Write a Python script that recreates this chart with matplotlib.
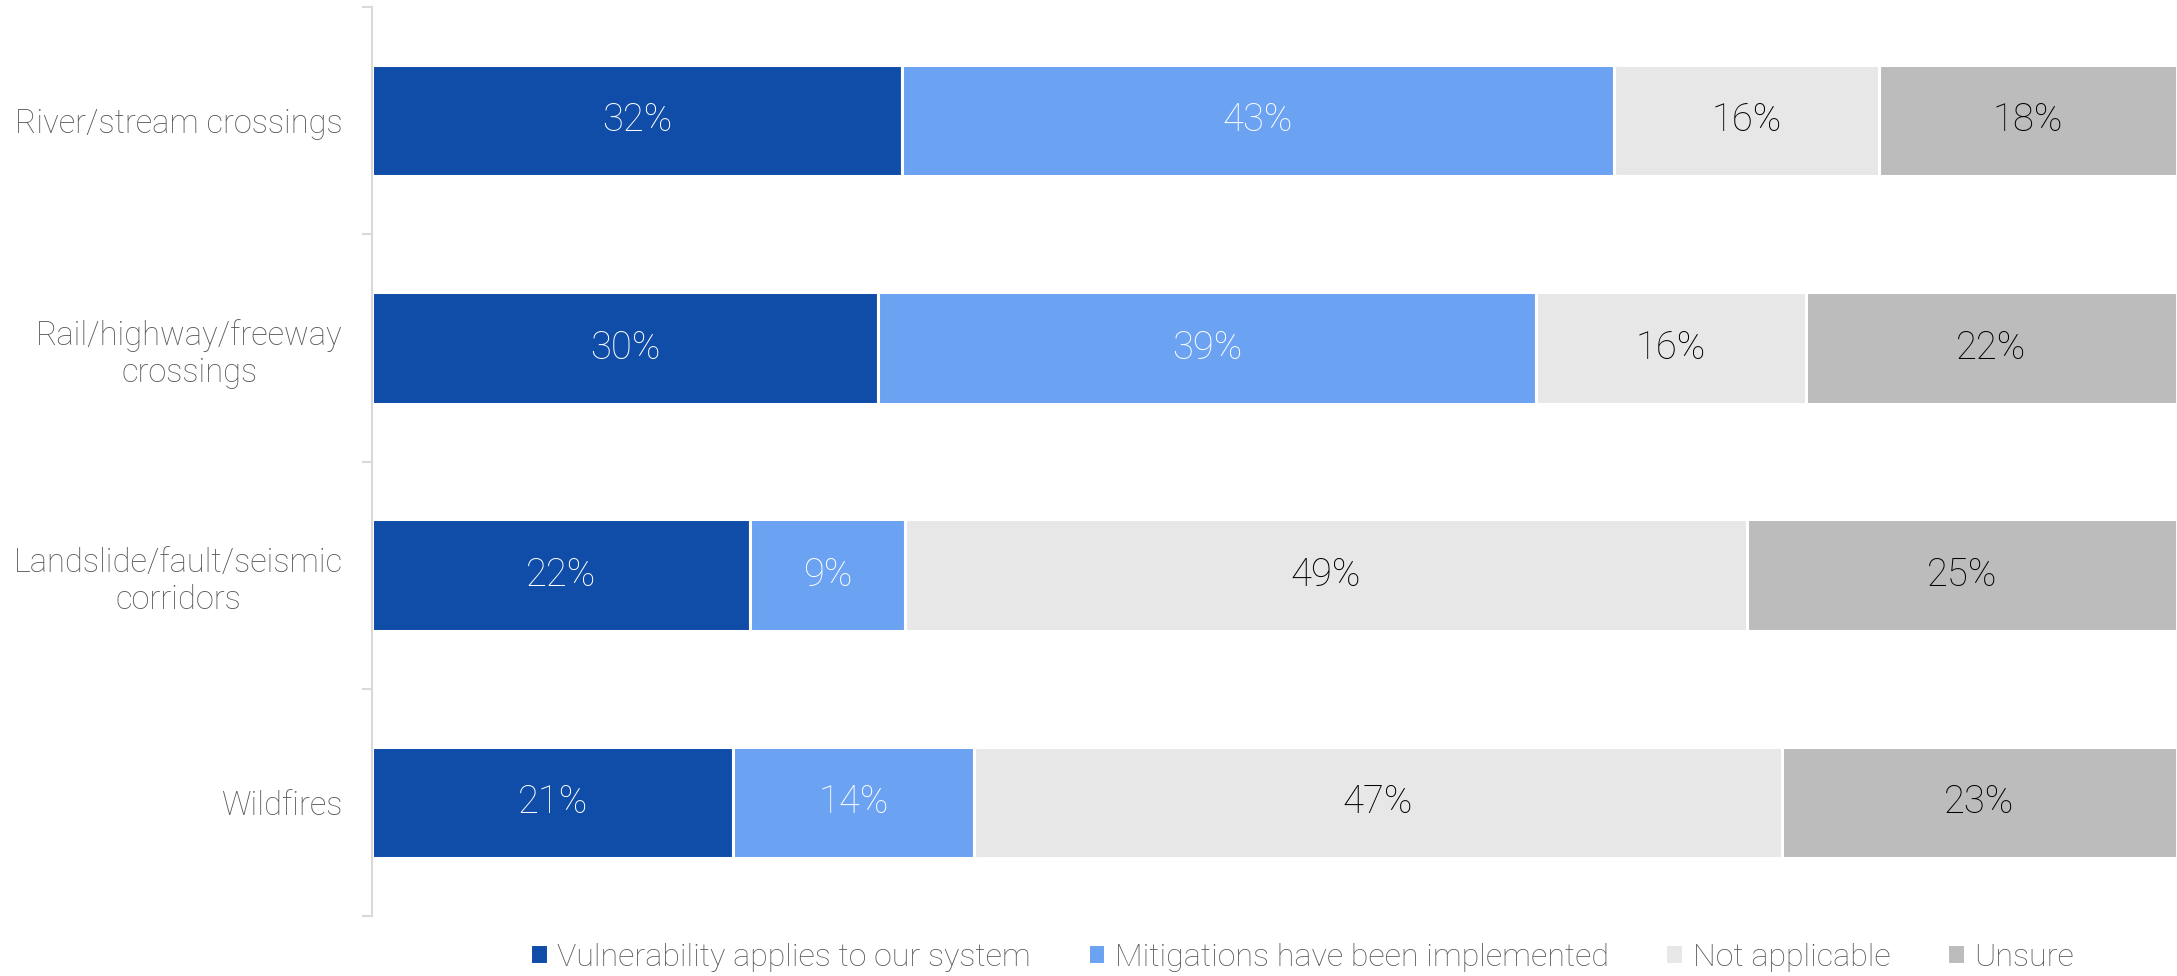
import matplotlib.pyplot as plt
import numpy as np

categories = ['River/stream crossings', 'Rail/highway/freeway\ncrossings',
              'Landslide/fault/seismic\ncorridors', 'Wildfires']
series = ['Vulnerability applies to our system', 'Mitigations have been implemented',
          'Not applicable', 'Unsure']
vulnerable = [32, 30, 22, 21]
mitigated = [43, 39, 9, 14]
not_applicable = [16, 16, 49, 47]
unsure = [18, 22, 25, 23]

colors = ['#0F4DA8', '#6BA2F1', '#E7E7E7', '#BCBCBC']
text_colors = ['white', 'white', '#000000', '#000000']

plt.rcParams['font.family'] = ['Roboto', 'DejaVu Sans']

values = np.array([vulnerable, mitigated, not_applicable, unsure], dtype=float)
totals = values.sum(axis=0)
# each row fills the full width (100% stacked)
shares = values / totals

fig = plt.figure(figsize=(21.77, 9.76), dpi=100)
ax = fig.add_axes([372 / 2177, 60 / 976, 1 - 372 / 2177, 909 / 976])

y = np.arange(len(categories))
left = np.zeros(len(categories))
for i in range(len(series)):
    ax.barh(y, shares[i], left=left, height=0.49, color=colors[i],
            edgecolor='white', linewidth=2.2, label=series[i])
    for j in range(len(categories)):
        ax.text(left[j] + shares[i][j] / 2, y[j], '%d%%' % values[i][j],
                ha='center', va='center', fontsize=27.5, fontweight='light',
                color=text_colors[i])
    left += shares[i]

ax.set_xlim(0, 1)
ax.set_ylim(len(categories) - 0.5, -0.5)
ax.set_yticks(y)
ax.set_yticklabels(categories, fontsize=23.5, fontweight='light', color='#595959',
                   ha='right', multialignment='center')
ax.tick_params(axis='y', length=0, pad=21)
ax.set_yticks(np.arange(-0.5, len(categories)), minor=True)
ax.tick_params(axis='y', which='minor', length=7, width=1.5, color='#d9d9d9')
ax.set_xticks([])
for s in ['top', 'right', 'bottom']:
    ax.spines[s].set_visible(False)
ax.spines['left'].set_color('#d9d9d9')
ax.spines['left'].set_linewidth(1.5)

leg = fig.legend(loc='center', bbox_to_anchor=(1302 / 2177, 19 / 976), ncol=4,
                 frameon=False, handlelength=0.55, handleheight=0.55,
                 handletextpad=0.3, columnspacing=1.75,
                 prop={'family': ['Roboto', 'DejaVu Sans'], 'weight': 'light', 'size': 23.2})
for t in leg.get_texts():
    t.set_color('#595959')

fig.savefig('out.png', dpi=100, facecolor='white')
